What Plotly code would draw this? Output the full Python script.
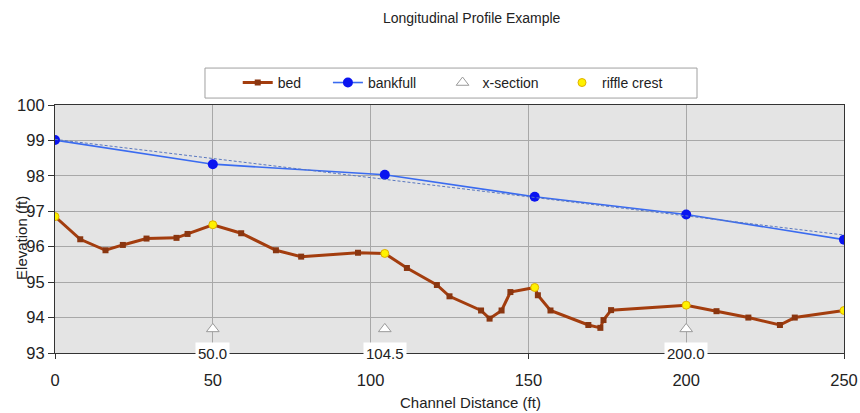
import plotly.graph_objects as go

# ---- data ----
bed_x = [0, 8, 16, 21.5, 29, 38.5, 42, 50, 59, 70, 78, 96, 104.5, 111.5, 121, 125, 135, 137.7, 141.5, 144.3, 152, 153, 157, 169, 172.8, 173.8, 176.2, 200, 209.6, 219.7, 229.7, 234.4, 250]
bed_y = [96.85, 96.21, 95.9, 96.05, 96.23, 96.25, 96.36, 96.62, 96.38, 95.9, 95.72, 95.83, 95.81, 95.4, 94.92, 94.6, 94.2, 93.97, 94.2, 94.72, 94.85, 94.63, 94.2, 93.79, 93.71, 93.93, 94.21, 94.35, 94.18, 94.0, 93.79, 94.0, 94.2]

bank_x = [0, 50, 104.5, 152, 200, 250]
bank_y = [99.01, 98.33, 98.03, 97.41, 96.91, 96.2]

trend_x = [0, 250]
trend_y = [99.03, 96.33]

xsec_x = [50, 104.5, 200]
xsec_y = [93.68, 93.68, 93.68]

riffle_x = [0, 50, 104.5, 152, 200, 250]
riffle_y = [96.85, 96.62, 95.81, 94.85, 94.35, 94.2]

x_ticks = [0, 50, 100, 150, 200, 250]
y_ticks = [93, 94, 95, 96, 97, 98, 99, 100]

FONT = "Liberation Sans, Arial, sans-serif"
TXT = "#222222"

fig = go.Figure()

fig.add_trace(go.Scatter(
    x=bed_x, y=bed_y, name="bed", mode="lines+markers", legend="legend",
    line=dict(color="#A33D0E", width=3),
    marker=dict(symbol="square", size=6, color="#8A3610"),
))
fig.add_trace(go.Scatter(
    x=bank_x, y=bank_y, name="bankfull", mode="lines+markers", legend="legend2",
    line=dict(color="#3A6BF0", width=1.6),
    marker=dict(symbol="circle", size=10, color="#0A14F0"),
))
fig.add_trace(go.Scatter(
    x=trend_x, y=trend_y, mode="lines", showlegend=False, hoverinfo="skip",
    line=dict(color="#5A78C0", width=1, dash="3px,2px"),
))
fig.add_trace(go.Scatter(
    x=xsec_x, y=xsec_y, name="x-section", mode="markers", legend="legend3",
    marker=dict(symbol="triangle-up", size=11, color="white",
                line=dict(color="#9A9A9A", width=1)),
))
fig.add_trace(go.Scatter(
    x=riffle_x, y=riffle_y, name="riffle crest", mode="markers", legend="legend4",
    marker=dict(symbol="circle", size=8, color="#FFF200",
                line=dict(color="#E0B000", width=1)),
))

for xv in xsec_x:
    fig.add_annotation(
        x=xv, y=93, xref="x", yref="y", text=f"{xv:.1f}", showarrow=False,
        bgcolor="white", font=dict(size=15, color=TXT, family=FONT),
        borderpad=2, yanchor="middle", xanchor="center",
    )

# y axis title (overlaps tick labels as in the reference)
fig.add_annotation(
    x=-0.0418, y=0.464, xref="paper", yref="paper", text="Elevation (ft)",
    showarrow=False, textangle=-90, xanchor="center", yanchor="middle",
    font=dict(size=15, color=TXT, family=FONT),
)
# x axis title
fig.add_annotation(
    x=0.526, y=-0.2016, xref="paper", yref="paper", text="Channel Distance (ft)",
    showarrow=False, xanchor="center", yanchor="middle",
    font=dict(size=15, color=TXT, family=FONT),
)

# legend frame
fig.add_shape(type="rect", xref="paper", yref="paper",
              x0=0.1901, x1=0.8137, y0=1.028, y1=1.149,
              line=dict(color="#A0A0A0", width=1), fillcolor="white", layer="below")

def leg(x):
    return dict(orientation="h", x=x, xanchor="left", y=1.089, yanchor="middle",
                bgcolor="rgba(0,0,0,0)", borderwidth=0, itemwidth=30,
                font=dict(size=14, color=TXT, family=FONT))

fig.update_layout(
    width=860, height=413,
    margin=dict(l=55, r=16, t=105, b=60, autoexpand=False),
    paper_bgcolor="white",
    plot_bgcolor="#E4E4E4",
    font=dict(family=FONT, size=16.5, color=TXT),
    title=dict(text="Longitudinal Profile Example", x=0.4453, xanchor="left",
               xref="container", y=0.9564, yanchor="middle",
               font=dict(size=14, color=TXT)),
    showlegend=True,
    legend=leg(0.2316),
    legend2=leg(0.3459),
    legend3=leg(0.4912),
    legend4=leg(0.6426),
    xaxis=dict(
        range=[0, 250], tickvals=x_ticks, showgrid=True, gridcolor="#A8A8A8",
        gridwidth=1, zeroline=False, showline=True, linecolor="#333333",
        linewidth=1.2, mirror=True, ticks="outside", ticklen=5,
        tickcolor="#333333", ticklabelstandoff=7, automargin=False,
        ticklabeloverflow="allow",
    ),
    yaxis=dict(
        range=[93, 100], tickvals=y_ticks, showgrid=True, gridcolor="#A8A8A8",
        gridwidth=1, zeroline=False, showline=True, linecolor="#333333",
        linewidth=1.2, mirror=True, ticks="outside", ticklen=6,
        tickcolor="#333333", automargin=False,
    ),
)

fig.write_html(
    "out.html", default_width="860px", default_height="413px",
    config={"displayModeBar": False},
    post_script="document.body.style.margin='0';document.body.style.overflow='hidden';",
)
